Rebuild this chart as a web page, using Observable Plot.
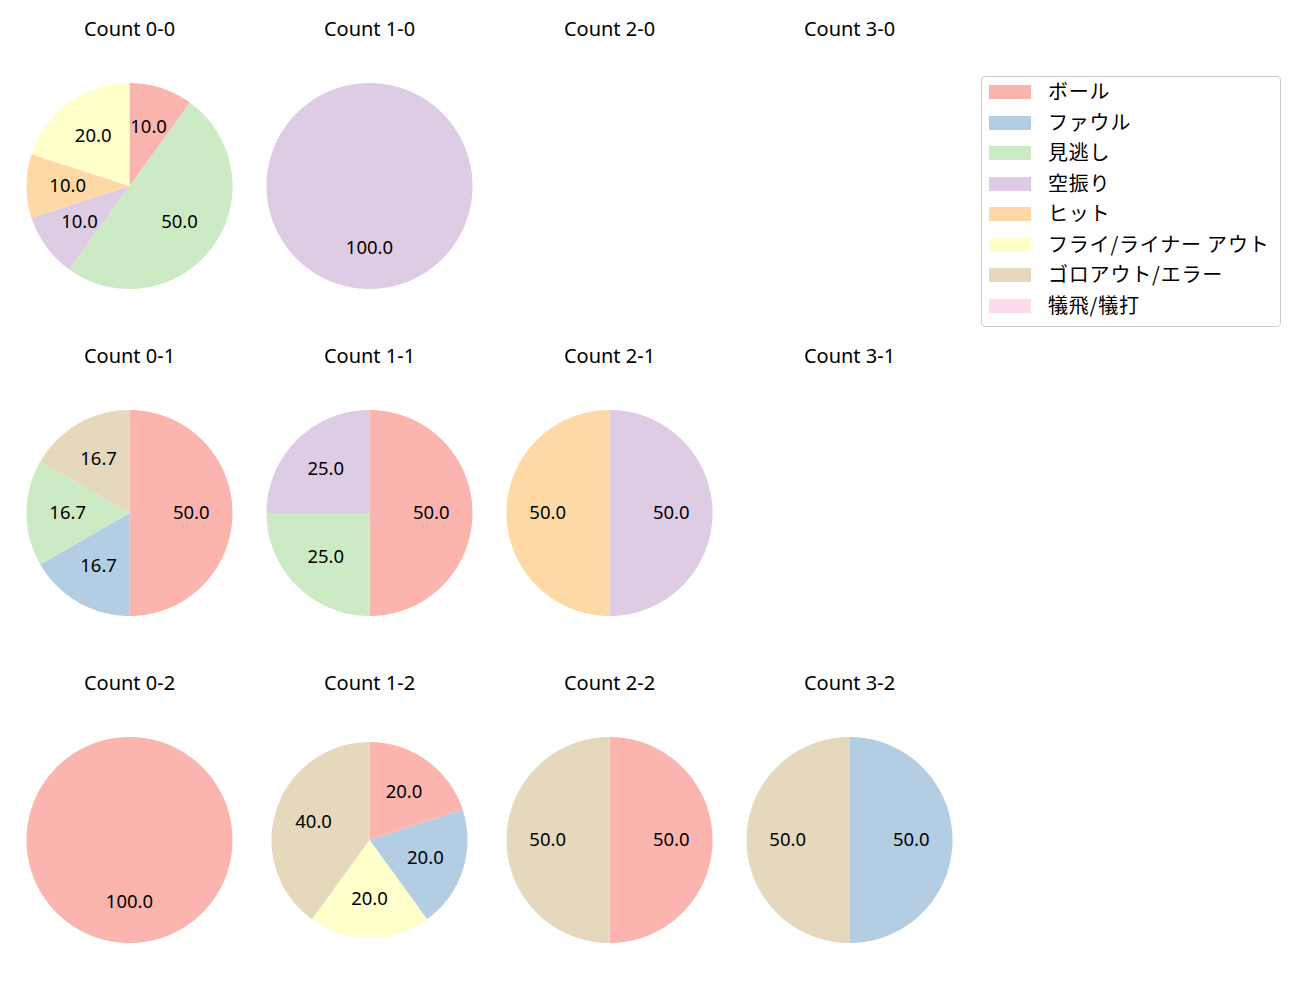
<!DOCTYPE html>
<html>
<head>
<meta charset="utf-8">
<script src="https://cdn.jsdelivr.net/npm/d3@7"></script>
<script src="https://cdn.jsdelivr.net/npm/@observablehq/plot@0.6"></script>
<style>
html, body { margin: 0; padding: 0; background: #fff; }
#root { position: relative; width: 1300px; height: 1000px; overflow: hidden; font-family: "Noto Sans", "Noto Sans CJK JP", sans-serif; }
.cell { position: absolute; width: 240px; height: 327px; }
.cell svg { display: block; overflow: visible; }
.legend { position: absolute; left: 981px; top: 76px; width: 298px; height: 249px; border: 1px solid #cccccc; border-radius: 4px; background: rgba(255,255,255,0.8); }
.legend .sw { position: absolute; left: 7px; width: 42px; height: 14px; }
.legend .lab { position: absolute; left: 66px; height: 20px; line-height: 20px; font-family: "Noto Sans CJK JP", sans-serif; font-size: 20px; letter-spacing: 0.8px; white-space: nowrap; color: #000; }
</style>
</head>
<body>
<div id="root"></div>
<script>
// ---- data ----
const categories = ["ボール", "ファウル", "見逃し", "空振り", "ヒット", "フライ/ライナー アウト", "ゴロアウト/エラー", "犠飛/犠打"];
const colors = ["#fbb4ae", "#b3cde3", "#ccebc5", "#decbe4", "#fed9a6", "#ffffcc", "#e5d8bd", "#fddaec"];
const balls = [0, 1, 2, 3];
const strikes = [0, 1, 2];
// pitch counts per category (same order as categories) for each ball-strike count
const count_0_0 = [1, 0, 5, 1, 1, 2, 0, 0];
const count_1_0 = [0, 0, 0, 1, 0, 0, 0, 0];
const count_2_0 = [0, 0, 0, 0, 0, 0, 0, 0];
const count_3_0 = [0, 0, 0, 0, 0, 0, 0, 0];
const count_0_1 = [3, 1, 1, 0, 0, 0, 1, 0];
const count_1_1 = [2, 0, 1, 1, 0, 0, 0, 0];
const count_2_1 = [0, 0, 0, 1, 1, 0, 0, 0];
const count_3_1 = [0, 0, 0, 0, 0, 0, 0, 0];
const count_0_2 = [1, 0, 0, 0, 0, 0, 0, 0];
const count_1_2 = [1, 1, 0, 0, 0, 1, 2, 0];
const count_2_2 = [1, 0, 0, 0, 0, 0, 1, 0];
const count_3_2 = [0, 1, 0, 0, 0, 0, 1, 0];
const countTable = {
  "0-0": count_0_0, "1-0": count_1_0, "2-0": count_2_0, "3-0": count_3_0,
  "0-1": count_0_1, "1-1": count_1_1, "2-1": count_2_1, "3-1": count_3_1,
  "0-2": count_0_2, "1-2": count_1_2, "2-2": count_2_2, "3-2": count_3_2
};

// ---- layout (styles only) ----
const CELL_W = 240, CELL_H = 327, LEFT0 = 9, TOP0 = 21.5, R_PX = 103;
const radiusFactor = {"1-2": 0.951};

function pieCell(b, s) {
  const key = `${b}-${s}`;
  const counts = countTable[key];
  const R = R_PX * (radiusFactor[key] || 1);
  const items = categories.map((c, i) => ({category: c, value: counts[i]})).filter(d => d.value > 0);
  const total = d3.sum(items, d => d.value);
  const arcs = d3.pie().sort(null).value(d => d.value)(items);
  const poly = [];
  arcs.forEach((a, k) => {
    const span = a.endAngle - a.startAngle;
    const n = Math.max(2, Math.ceil(span / (Math.PI / 360)));
    poly.push({id: k, category: a.data.category, x: 0, y: 0});
    for (let j = 0; j <= n; j++) {
      const t = a.startAngle + span * j / n;
      poly.push({id: k, category: a.data.category, x: Math.sin(t), y: Math.cos(t)});
    }
    poly.push({id: k, category: a.data.category, x: 0, y: 0});
  });
  const labels = arcs.map(a => {
    const m = (a.startAngle + a.endAngle) / 2;
    return {x: 0.6 * Math.sin(m), y: 0.6 * Math.cos(m), text: (100 * a.data.value / total).toFixed(1)};
  });
  const hx = (CELL_W / 2) / R, hy = (CELL_H / 2) / R;
  return Plot.plot({
    width: CELL_W,
    height: CELL_H,
    margin: 0,
    style: {fontFamily: "'Noto Sans', 'Noto Sans CJK JP', sans-serif", fontSize: "18.5px", color: "#000", background: "transparent"},
    x: {domain: [-hx, hx], axis: null},
    y: {domain: [-hy, hy], axis: null},
    color: {domain: categories, range: colors},
    marks: [
      Plot.line(poly, {x: "x", y: "y", z: "id", fill: "category", stroke: "none", curve: "linear"}),
      Plot.text(labels, {x: "x", y: "y", text: "text", fill: "#000", fontSize: 18.5}),
      Plot.text([`Count ${key}`], {text: d => d, frameAnchor: "top", lineAnchor: "middle", dy: 7.5, fontSize: 20, fill: "#000"})
    ]
  });
}

const root = document.getElementById("root");
for (const s of strikes) {
  for (const b of balls) {
    const div = document.createElement("div");
    div.className = "cell";
    div.style.left = (LEFT0 + b * CELL_W) + "px";
    div.style.top = (TOP0 + s * CELL_H) + "px";
    div.appendChild(pieCell(b, s));
    root.appendChild(div);
  }
}

// legend
const legend = document.createElement("div");
legend.className = "legend";
categories.forEach((c, i) => {
  const cy = 15 + i * 30.5;
  const sw = document.createElement("div");
  sw.className = "sw";
  sw.style.top = (cy - 7) + "px";
  sw.style.background = colors[i];
  legend.appendChild(sw);
  const lab = document.createElement("div");
  lab.className = "lab";
  lab.style.top = (cy - 11) + "px";
  lab.textContent = c;
  legend.appendChild(lab);
});
root.appendChild(legend);
</script>
</body>
</html>
